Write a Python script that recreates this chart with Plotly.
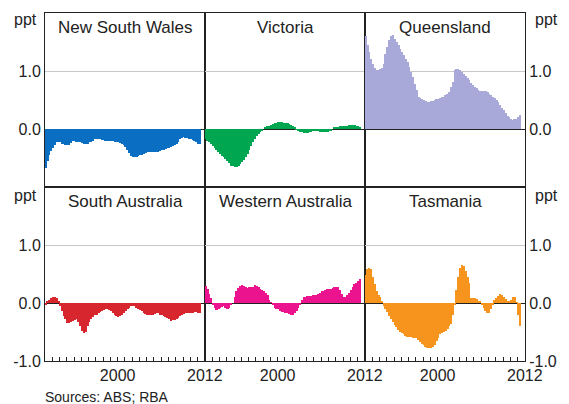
import pandas as pd
import plotly.graph_objects as go

# quarterly periods, 1990Q1 - 2011Q2
quarters = pd.period_range("1990Q1", "2011Q2", freq="Q")

states = ["New South Wales", "Victoria", "Queensland",
          "South Australia", "Western Australia", "Tasmania"]

nsw = [-0.68, -0.55, -0.45, -0.38, -0.32, -0.27, -0.23, -0.22,
       -0.23, -0.25, -0.26, -0.27, -0.28, -0.27, -0.24, -0.21,
       -0.21, -0.22, -0.23, -0.23, -0.24, -0.25, -0.26, -0.25,
       -0.23, -0.22, -0.20, -0.18, -0.18, -0.18, -0.18, -0.19,
       -0.19, -0.20, -0.20, -0.21, -0.21, -0.21, -0.22, -0.22,
       -0.23, -0.24, -0.26, -0.28, -0.31, -0.36, -0.42, -0.46,
       -0.48, -0.49, -0.49, -0.47, -0.45, -0.44, -0.43, -0.41,
       -0.40, -0.40, -0.40, -0.40, -0.40, -0.40, -0.39, -0.38,
       -0.37, -0.36, -0.35, -0.33, -0.32, -0.31, -0.30, -0.28,
       -0.26, -0.22, -0.18, -0.15, -0.14, -0.15, -0.16, -0.17,
       -0.17, -0.19, -0.21, -0.23, -0.25, -0.26]

vic = [-0.18, -0.20, -0.23, -0.26, -0.30, -0.33, -0.37, -0.40,
       -0.43, -0.46, -0.49, -0.51, -0.55, -0.59, -0.63, -0.64,
       -0.65, -0.65, -0.64, -0.60, -0.57, -0.53, -0.49, -0.43,
       -0.36, -0.29, -0.23, -0.17, -0.12, -0.09, -0.05, -0.02,
       0.00, 0.02, 0.05, 0.06, 0.07, 0.08, 0.10, 0.11,
       0.12, 0.12, 0.12, 0.11, 0.11, 0.10, 0.09, 0.07,
       0.05, 0.02, -0.01, -0.04, -0.05, -0.06, -0.07, -0.07,
       -0.07, -0.06, -0.05, -0.04, -0.03, -0.03, -0.04, -0.05,
       -0.05, -0.06, -0.06, -0.05, -0.03, -0.02, 0.00, 0.03,
       0.03, 0.04, 0.05, 0.05, 0.05, 0.06, 0.06, 0.07,
       0.07, 0.07, 0.07, 0.06, 0.06, 0.04]

qld = [1.61, 1.45, 1.32, 1.20, 1.12, 1.06, 1.02, 1.02,
       1.03, 1.06, 1.12, 1.30, 1.42, 1.54, 1.60, 1.62,
       1.56, 1.50, 1.44, 1.38, 1.32, 1.27, 1.21, 1.15,
       1.07, 0.99, 0.90, 0.78, 0.67, 0.56, 0.53, 0.51,
       0.50, 0.48, 0.46, 0.47, 0.48, 0.49, 0.50, 0.51,
       0.52, 0.53, 0.55, 0.56, 0.58, 0.61, 0.64, 0.72,
       0.81, 1.01, 1.03, 1.04, 1.01, 0.98, 0.95, 0.91,
       0.88, 0.84, 0.80, 0.76, 0.73, 0.70, 0.67, 0.66,
       0.66, 0.66, 0.65, 0.64, 0.61, 0.58, 0.56, 0.53,
       0.50, 0.47, 0.42, 0.37, 0.33, 0.28, 0.22, 0.20,
       0.17, 0.16, 0.17, 0.18, 0.21, 0.25]

sa = [-0.02, 0.03, 0.06, 0.09, 0.10, 0.11, 0.09, 0.04,
      -0.05, -0.14, -0.22, -0.28, -0.35, -0.34, -0.32, -0.31,
      -0.29, -0.28, -0.33, -0.40, -0.48, -0.52, -0.50, -0.40,
      -0.33, -0.28, -0.24, -0.21, -0.20, -0.18, -0.16, -0.14,
      -0.12, -0.11, -0.11, -0.12, -0.14, -0.17, -0.20, -0.23,
      -0.24, -0.23, -0.20, -0.17, -0.13, -0.10, -0.08, -0.06,
      -0.05, -0.06, -0.08, -0.10, -0.12, -0.14, -0.17, -0.19,
      -0.21, -0.21, -0.20, -0.20, -0.19, -0.17, -0.18, -0.20,
      -0.21, -0.23, -0.24, -0.25, -0.28, -0.31, -0.30, -0.29,
      -0.28, -0.26, -0.23, -0.21, -0.19, -0.17, -0.17, -0.18,
      -0.18, -0.17, -0.16, -0.16, -0.17, -0.17]

wa = [0.29, 0.24, 0.16, 0.09, -0.04, -0.08, -0.12, -0.11,
      -0.08, -0.07, -0.06, -0.08, -0.10, -0.08, -0.03, 0.00,
      0.10, 0.20, 0.26, 0.29, 0.31, 0.30, 0.28, 0.26,
      0.27, 0.27, 0.28, 0.31, 0.30, 0.27, 0.24, 0.22,
      0.20, 0.18, 0.14, 0.05, 0.01, -0.04, -0.08, -0.10,
      -0.11, -0.13, -0.15, -0.16, -0.17, -0.18, -0.19, -0.20,
      -0.20, -0.18, -0.14, -0.08, -0.03, 0.05, 0.11, 0.11,
      0.12, 0.12, 0.12, 0.13, 0.13, 0.14, 0.16, 0.18,
      0.20, 0.21, 0.23, 0.24, 0.25, 0.25, 0.26, 0.27,
      0.28, 0.27, 0.22, 0.16, 0.11, 0.11, 0.14, 0.18,
      0.23, 0.28, 0.32, 0.35, 0.38, 0.42]

tas = [0.48, 0.58, 0.61, 0.59, 0.45, 0.33, 0.20, 0.14,
       0.10, 0.03, -0.06, -0.10, -0.16, -0.22, -0.28, -0.33,
       -0.38, -0.42, -0.46, -0.50, -0.52, -0.54, -0.57, -0.58,
       -0.59, -0.59, -0.60, -0.61, -0.61, -0.64, -0.68, -0.71,
       -0.73, -0.75, -0.77, -0.78, -0.77, -0.76, -0.72, -0.65,
       -0.60, -0.54, -0.52, -0.50, -0.48, -0.44, -0.40, -0.37,
       -0.20, -0.03, 0.23, 0.45, 0.60, 0.65, 0.63, 0.56,
       0.45, 0.34, 0.08, 0.08, 0.08, 0.07, 0.04, 0.02,
       -0.03, -0.08, -0.14, -0.17, -0.18, -0.10, -0.03, 0.05,
       0.08, 0.12, 0.15, 0.14, 0.11, 0.07, 0.03, 0.04,
       0.06, 0.10, 0.11, 0.01, -0.20, -0.40]

series = [nsw, vic, qld, sa, wa, tas]
colors = ["#0a6fc2", "#00a650", "#a9a9d9", "#d7262e", "#ec138e", "#f7941d"]

x_years = [p.year + (p.quarter - 1) * 0.25 + 0.125 for p in quarters]

FONT = "Liberation Sans, Arial, sans-serif"
TXT = "#222222"

fig = go.Figure()
layout = {}
annotations = []

for k, (name, vals, col_) in enumerate(zip(states, series, colors)):
    row, col = divmod(k, 3)
    n = k + 1
    sx = "" if n == 1 else str(n)
    fig.add_trace(go.Bar(
        x=x_years, y=vals, width=0.25,
        marker=dict(color=col_, line=dict(width=0)),
        xaxis="x" + sx, yaxis="y" + sx, showlegend=False,
    ))

    xdom = [col / 3, (col + 1) / 3]
    ydom = [0.5, 1.0] if row == 0 else [0.0, 0.5]

    xa = dict(domain=xdom, anchor="y" + sx, range=[1990, 2012.02],
              showline=True, mirror=True, linecolor="#222", linewidth=1,
              showgrid=False, zeroline=False,
              tickfont=dict(family=FONT, size=16, color=TXT))
    if row == 1:
        xa.update(tickvals=[2000, 2012], ticktext=["2000", "2012"],
                  ticks="inside", ticklen=4, tickcolor="#222",
                  minor=dict(ticks="inside", ticklen=4, tickcolor="#222",
                             tickvals=list(range(1991, 2012))))
    else:
        xa.update(showticklabels=False, ticks="")

    yvals = [0, 1] if row == 0 else [-1, 0, 1]
    ya = dict(domain=ydom, anchor="x" + sx, range=[-1, 2],
              showline=True, mirror=True, linecolor="#222", linewidth=1,
              tickvals=yvals, ticktext=[f"{v:.1f}" for v in yvals],
              showgrid=True, gridcolor="#c8c8c8", gridwidth=1,
              zeroline=True, zerolinecolor="#222", zerolinewidth=1,
              ticks="", tickfont=dict(family=FONT, size=16, color=TXT))
    if col == 0:
        ya.update(side="left")
    elif col == 2:
        ya.update(side="right")
    else:
        ya.update(showticklabels=False)

    layout["xaxis" + sx] = xa
    layout["yaxis" + sx] = ya

    annotations.append(dict(
        text=name, xref="paper", yref="paper",
        x=(col + 0.5) / 3, y=ydom[1], xanchor="center", yanchor="top",
        yshift=-3, showarrow=False,
        font=dict(family=FONT, size=17, color=TXT)))

for ytop, ysh in [(1.0, -6), (0.5, -8)]:
    annotations.append(dict(text="ppt", xref="paper", yref="paper", x=0, y=ytop,
                            xanchor="right", yanchor="middle", xshift=-6, yshift=ysh,
                            showarrow=False, font=dict(family=FONT, size=16, color=TXT)))
    annotations.append(dict(text="ppt", xref="paper", yref="paper", x=1, y=ytop,
                            xanchor="left", yanchor="middle", xshift=8, yshift=ysh,
                            showarrow=False, font=dict(family=FONT, size=16, color=TXT)))

annotations.append(dict(text="Sources: ABS; RBA", xref="paper", yref="paper",
                        x=0, y=0, xanchor="left", yanchor="middle", xshift=-2,
                        yshift=-36, showarrow=False,
                        font=dict(family=FONT, size=14, color=TXT)))

fig.update_layout(
    **layout,
    annotations=annotations,
    width=569, height=404,
    margin=dict(l=45, r=37, t=12, b=43),
    paper_bgcolor="white", plot_bgcolor="white",
    bargap=0,
    font=dict(family=FONT, color=TXT),
)

fig.write_html("out.html", config={"displayModeBar": False},
               post_script="document.body.style.margin='0';")
